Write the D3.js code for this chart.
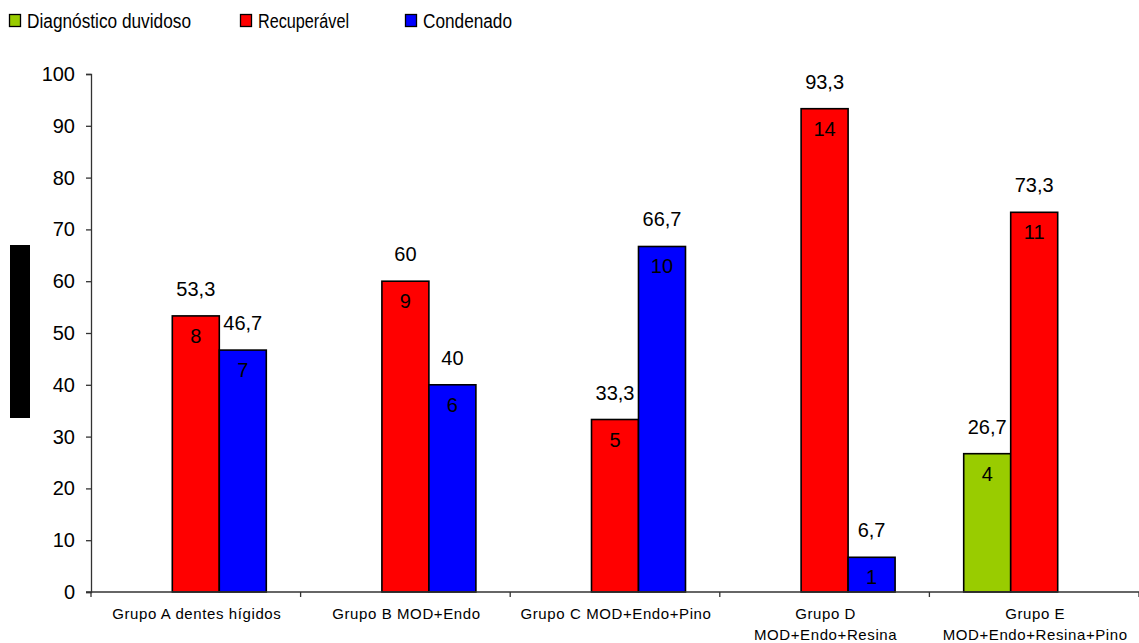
<!DOCTYPE html>
<html>
<head>
<meta charset="utf-8">
<script src="https://cdn.jsdelivr.net/npm/d3@7"></script>
<style>
  html, body { margin: 0; padding: 0; background: #fff; }
  svg { display: block; font-family: "Liberation Sans", Arial, sans-serif; }
</style>
</head>
<body>
<svg id="chart" width="1139" height="643"></svg>
<script>
// Grupos avaliados (rótulos do eixo X, uma linha por elemento)
const categories = [
  ["Grupo A dentes hígidos"],
  ["Grupo B MOD+Endo"],
  ["Grupo C MOD+Endo+Pino"],
  ["Grupo D", "MOD+Endo+Resina"],
  ["Grupo E", "MOD+Endo+Resina+Pino"]
];
const seriesNames = ["Diagnóstico duvidoso", "Recuperável", "Condenado"];
const seriesColors = ["#99CC00", "#FF0000", "#0000FF"];

// Percentuais (%) por grupo
const duvidosoPct   = [null, null, null, null, 26.7];
const recuperavelPct = [53.3, 60, 33.3, 93.3, 73.3];
const condenadoPct  = [46.7, 40, 66.7, 6.7, null];

// Número de dentes por grupo
const duvidosoN    = [null, null, null, null, 4];
const recuperavelN = [8, 9, 5, 14, 11];
const condenadoN   = [7, 6, 10, 1, null];

const yTicks = [0, 10, 20, 30, 40, 50, 60, 70, 80, 90, 100];

const pctSeries = [duvidosoPct, recuperavelPct, condenadoPct];
const nSeries = [duvidosoN, recuperavelN, condenadoN];

const svg = d3.select("#chart");
const plotLeft = 91, plotRight = 1139, plotTop = 74, plotBottom = 592;

const x0 = d3.scaleBand().domain(d3.range(categories.length)).range([plotLeft, plotRight]).padding(0);
const x1 = d3.scaleBand().domain(d3.range(seriesNames.length))
  .range([0, x0.bandwidth()]).paddingInner(0).paddingOuter(0.73);
const y = d3.scaleLinear().domain([0, 100]).range([plotBottom, plotTop]);

const axisColor = "#333";

// Eixo Y
const yAxis = svg.append("g")
  .attr("transform", `translate(${plotLeft},0)`)
  .call(d3.axisLeft(y).tickValues(yTicks).tickSize(5).tickPadding(11).tickFormat(d3.format("d")));
yAxis.select(".domain").attr("stroke", axisColor).attr("stroke-width", 1.3);
yAxis.selectAll(".tick line").attr("stroke", axisColor).attr("stroke-width", 1.3);
yAxis.selectAll(".tick text").attr("font-size", 20).attr("fill", "#000")
  .attr("font-family", "Liberation Sans, Arial, sans-serif");

// Título do eixo Y (tarja)
svg.append("rect").attr("x", 10).attr("y", 245).attr("width", 20).attr("height", 173).attr("fill", "#000");

// Barras
const flat = [];
categories.forEach((c, i) => {
  pctSeries.forEach((s, j) => {
    if (s[i] != null) flat.push({ i, j, v: s[i], n: nSeries[j][i] });
  });
});

const bars = svg.append("g");
bars.selectAll("rect").data(flat).join("rect")
  .attr("x", d => x0(d.i) + x1(d.j))
  .attr("y", d => y(d.v))
  .attr("width", x1.bandwidth())
  .attr("height", d => y(0) - y(d.v))
  .attr("fill", d => seriesColors[d.j])
  .attr("stroke", "#000")
  .attr("stroke-width", 1.6);

// Eixo X
const xAxisG = svg.append("g");
xAxisG.append("line").attr("x1", plotLeft - 5).attr("x2", plotRight).attr("y1", plotBottom).attr("y2", plotBottom)
  .attr("stroke", axisColor).attr("stroke-width", 1.3);
const boundaries = d3.range(categories.length + 1).map(k => k < categories.length ? x0(k) : plotRight);
xAxisG.selectAll("line.tick").data(boundaries).join("line").attr("class", "tick")
  .attr("x1", d => d).attr("x2", d => d).attr("y1", plotBottom).attr("y2", plotBottom + 5)
  .attr("stroke", axisColor).attr("stroke-width", 1.3);

const xl = xAxisG.selectAll("text").data(categories).join("text")
  .attr("x", (d, i) => x0(i) + x0.bandwidth() / 2 + 1)
  .attr("y", 619)
  .attr("text-anchor", "middle")
  .attr("font-size", 15)
  .attr("letter-spacing", 0.6)
  .attr("fill", "#000");
xl.selectAll("tspan").data(d => d).join("tspan")
  .attr("x", function () { return this.parentNode.getAttribute("x"); })
  .attr("dy", (d, k) => k === 0 ? 0 : 21)
  .text(d => d);

// Rótulos de percentual
const fmt = v => d3.format(".1~f")(v).replace(".", ",");
svg.append("g").selectAll("text").data(flat).join("text")
  .attr("x", d => x0(d.i) + x1(d.j) + x1.bandwidth() / 2)
  .attr("y", d => y(d.v) - 20)
  .attr("text-anchor", "middle")
  .attr("font-size", 20)
  .attr("fill", "#000")
  .text(d => fmt(d.v));

// Número de dentes dentro das barras
svg.append("g").selectAll("text").data(flat).join("text")
  .attr("x", d => x0(d.i) + x1(d.j) + x1.bandwidth() / 2)
  .attr("y", d => y(d.v) + 27)
  .attr("text-anchor", "middle")
  .attr("font-size", 20)
  .attr("fill", "#000")
  .text(d => d.n);

// Legenda
const legendX = [9, 240, 405];
const legendW = [164, 91, 89];
const lg = svg.append("g").selectAll("g").data(seriesNames).join("g")
  .attr("transform", (d, i) => `translate(${legendX[i]},0)`);
lg.append("rect").attr("x", 0.5).attr("y", 14.5).attr("width", 11).attr("height", 12)
  .attr("fill", (d, i) => seriesColors[i]).attr("stroke", "#000").attr("stroke-width", 1.3);
lg.append("text").attr("x", 18).attr("y", 28)
  .attr("font-size", 20)
  .attr("textLength", (d, i) => legendW[i])
  .attr("lengthAdjust", "spacingAndGlyphs")
  .attr("fill", "#000")
  .text(d => d);
</script>
</body>
</html>
